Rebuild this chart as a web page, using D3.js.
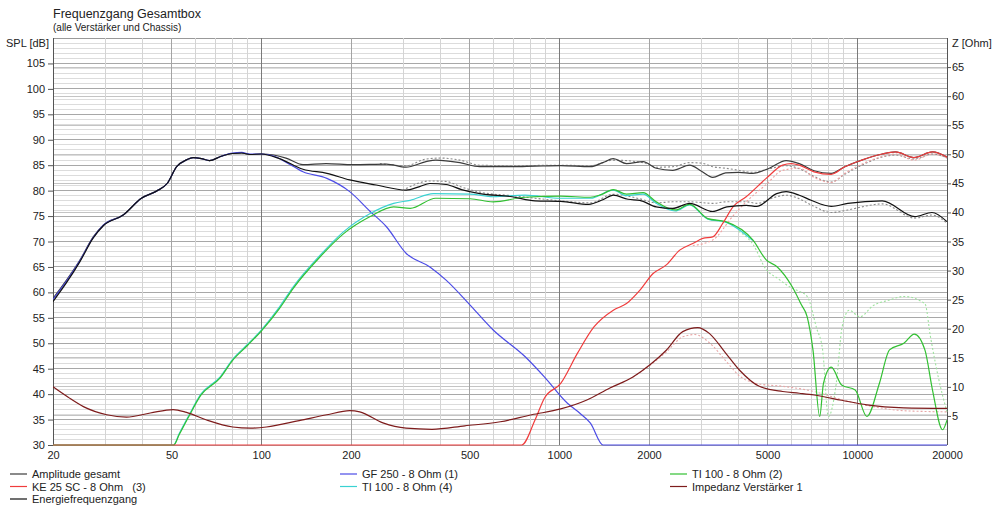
<!DOCTYPE html>
<html>
<head>
<meta charset="utf-8">
<script src="https://cdn.jsdelivr.net/npm/d3@7"></script>
<style>
  body { margin: 0; background: #fff; }
  text { font-family: "Liberation Sans", Arial, sans-serif; fill: #222; }
</style>
</head>
<body>
<svg id="chart" width="1000" height="509"></svg>
<script>
// --- values: [frequency Hz, value] ---
const amplitudeGesamt = [[20,58.8],[22.2,62.4],[24.6,66.3],[27.3,70.9],[29.5,73.2],[34.4,75.2],[39.6,78.5],[44.5,79.9],[48.3,81.4],[52,84.7],[56.3,86.1],[59,86.5],[63,86.3],[67,85.9],[73,86.7],[80,87.3],[86,87.4],[91.5,87.1],[100,87.2],[110,87.0],[121,86.4],[138,85.1],[165,85.3],[203,85.1],[263,85.2],[306,84.6],[357,85.7],[385,86.0],[464,85.5],[541,84.7],[694,84.7],[829,84.8],[1011,84.9],[1272,84.7],[1400,85.5],[1518,86.3],[1681,85.3],[1911,85.7],[2114,84.4],[2402,84.0],[2738,85.0],[3000,83.8],[3272,82.6],[3616,83.5],[4000,83.6],[4460,83.4],[5065,84.4],[5770,85.9],[6388,85.3],[7160,83.9],[8175,83.4],[9083,84.7],[10350,86.0],[12120,87.2],[13430,87.6],[15490,86.5],[17880,87.6],[20000,86.6]];
const amplitudeRef = [[250,85.3],[306,84.9],[357,86.2],[400,86.4],[464,86.0],[541,85.0],[694,84.9],[1011,85.0],[1272,84.9],[1518,86.0],[1911,85.5],[2114,84.6],[2402,84.7],[2738,85.5],[3000,85.4],[3272,84.7],[3616,84.4],[4000,84.0],[4460,83.6],[5065,84.3],[5770,84.9],[6388,84.3],[7160,82.8],[8175,81.7],[9083,83.2],[10350,85.0],[12120,86.6],[13430,87.0],[15490,86.2],[17880,87.2],[20000,86.4]];
const energiefrequenzgang = [[20,58.2],[22.2,61.9],[24.6,66.0],[27.3,70.7],[29.5,73.1],[34.4,75.2],[39.6,78.5],[44.5,79.9],[48.3,81.4],[52,84.7],[56.3,86.1],[59,86.5],[63,86.3],[67,85.9],[73,86.7],[80,87.3],[86,87.4],[91.5,87.1],[100,87.2],[115,86.3],[138,84.2],[166,83.4],[198,82.1],[243,81.1],[306,80.1],[340,80.8],[368,81.4],[417,81.2],[470,80.2],[541,79.4],[694,78.8],[829,78.0],[1011,77.9],[1256,77.3],[1400,78.2],[1518,79.1],[1700,78.3],[1862,78.1],[2114,76.8],[2402,76.5],[2738,77.5],[3272,75.9],[3650,76.8],[4238,77.1],[4600,76.9],[5365,79.4],[5770,79.8],[6388,79.1],[7000,78.1],[8175,76.9],[9300,77.5],[12120,78.0],[15600,74.9],[17800,75.7],[20000,73.9]];
const energieRef = [[306,80.4],[368,81.9],[417,81.8],[470,80.7],[541,79.7],[694,79.0],[1011,78.0],[1272,77.6],[1518,79.3],[1862,78.4],[2114,77.6],[2402,77.8],[2738,77.8],[3272,77.5],[3650,77.8],[4238,77.8],[4600,77.5],[5365,78.8],[5770,79.1],[6388,78.4],[7000,77.2],[8175,75.7],[9300,76.2],[10350,76.8],[12120,77.4],[15600,74.6],[17800,75.2],[20000,73.6]];
const gf250 = [[20,58.6],[22.2,62.2],[24.6,66.2],[27.3,70.8],[29.5,73.2],[34.4,75.2],[39.6,78.5],[44.5,79.9],[48.3,81.4],[52,84.7],[56.3,86.1],[59,86.5],[63,86.3],[67,85.9],[73,86.7],[80,87.4],[86,87.5],[91.5,87.2],[100,87.2],[110,86.8],[121,85.6],[138,83.7],[166,82.4],[198,79.8],[232,75.9],[263,72.9],[306,67.7],[368,65.0],[417,62.4],[502,57.5],[600,52.6],[767,47.4],[891,43.4],[1065,38.2],[1175,36.2],[1272,34.3],[1403,30],[20000,30]];
const ti100_2 = [[20,30],[50.8,30],[53,32],[57,35.5],[62.7,39.8],[72.8,43.2],[80,46.6],[90,49.6],[100,52.4],[115,56.8],[128,60.8],[157.6,67.0],[188.6,71.5],[232,74.9],[278,76.8],[316,76.5],[385,78.5],[502,78.4],[600,77.8],[767,78.7],[1011,78.9],[1272,78.7],[1380,79.2],[1518,80.2],[1681,79.3],[1911,79.6],[2114,77.8],[2450,76.2],[2738,77.3],[3150,74.5],[3616,73.9],[4460,70.3],[4946,66.4],[5390,65.0],[6048,61.1],[6500,57.5],[6790,55.2],[7100,48.7],[7480,35.6],[7700,42.1],[8175,45.3],[8860,41.8],[9840,40.8],[10770,35.6],[11860,42.1],[12830,48.7],[14330,50.0],[15540,51.8],[16860,48.7],[17880,40.8],[19320,33.0],[20000,34.9]];
const ti100_2Ref = [[4000,72.0],[4460,69.5],[4946,64.5],[5390,62.8],[6048,60.8],[6388,60.2],[6790,59.2],[7300,53.0],[7650,48.7],[8000,35.6],[8500,42.1],[8900,53.3],[9400,56.5],[10200,55.2],[11300,57.4],[12830,58.5],[14330,59.2],[16860,57.8],[17600,51.3],[18900,42.1],[20000,36.5]];
const ke25sc = [[20,30],[748,30],[829,34.9],[891,39.2],[1011,42.1],[1150,48.0],[1307,53.2],[1518,56.5],[1681,57.8],[1862,60.4],[2064,63.7],[2286,65.4],[2535,68.3],[2806,69.6],[3031,70.6],[3272,70.9],[3540,73.6],[3826,76.8],[4238,78.8],[4946,82.4],[5618,85.0],[6000,85.3],[6388,85.0],[7160,83.7],[8175,83.2],[9083,84.7],[10350,86.0],[12120,87.2],[13430,87.6],[15490,86.5],[17880,87.6],[20000,86.6]];
const ke25scRef = [[2806,69.2],[3272,70.3],[3826,75.0],[4238,77.8],[4946,81.2],[5618,84.0],[6388,84.4],[7160,82.6],[8175,81.6],[9083,83.4],[10350,85.2],[12120,86.7],[13430,87.2],[15490,86.0],[17880,87.2],[20000,86.4]];
const ti100_4 = [[20,30],[50.8,30],[53,32.2],[57,35.7],[62.7,40.0],[72.8,43.4],[80,46.8],[90,49.8],[100,52.6],[115,57.1],[128,61.1],[157.6,67.3],[188.6,71.9],[232,75.5],[278,77.5],[316,78.1],[378,79.4],[502,79.3],[600,78.8],[767,79.1],[1011,78.5],[1272,78.5],[1518,80.1],[1681,79.0],[1911,79.3],[2114,77.5],[2450,76.0],[2738,77.2],[3150,74.4],[3616,73.8],[4460,70.2]];
// impedance, right axis (Ohm)
const impedanz = [[20,10.0],[22.5,8.2],[25.3,6.6],[30.3,5.2],[35.3,4.8],[42.4,5.5],[50.6,6.1],[56.1,5.6],[65.5,4.3],[80.2,3.1],[92,2.9],[104,3.1],[134,4.2],[166,5.2],[198,5.9],[214,5.7],[256,3.8],[306,2.9],[374,2.7],[482,3.3],[634,4.0],[808,5.2],[1011,6.2],[1232,7.7],[1478,9.8],[1767,11.7],[2015,13.8],[2286,16.3],[2596,19.5],[2914,20.2],[3187,19.2],[3616,15.8],[4020,12.9],[4688,10.1],[5618,9.2],[6388,8.9],[7160,8.6],[8860,7.7],[10770,6.9],[14330,6.4],[20000,6.3]];
const impedanzRef = [[1767,11.7],[2015,13.7],[2286,16.0],[2596,18.6],[2850,19.0],[3187,17.6],[3616,14.5],[4020,11.9],[4688,10.5],[5618,10.1],[6388,9.7],[7160,9.2],[8860,7.8],[10770,6.8],[14330,5.9],[20000,5.7]];

const spl_ticks = [30,35,40,45,50,55,60,65,70,75,80,85,90,95,100,105];
const z_ticks = [5,10,15,20,25,30,35,40,45,50,55,60,65];
const freq_labels = [20,50,100,200,500,1000,2000,5000,10000,20000];

const svg = d3.select("#chart");
const x = d3.scaleLog().domain([20, 20000]).range([53, 947]);
const ySpl = d3.scaleLinear().domain([30, 110]).range([445, 38]);
const yZ = d3.scaleLinear().domain([0, 70]).range([445, 38]);

// grid
const grid = svg.append("g").attr("shape-rendering", "crispEdges");
d3.range(31, 110).filter(d => d % 5 !== 0).forEach(d => {
    grid.append("line").attr("x1", 53).attr("x2", 947).attr("y1", ySpl(d)).attr("y2", ySpl(d)).attr("stroke", "#dcdcdc");
});
z_ticks.forEach(d => {
    grid.append("line").attr("x1", 53).attr("x2", 947).attr("y1", yZ(d)).attr("y2", yZ(d)).attr("stroke", "#c4c4c4");
});
spl_ticks.concat([110]).forEach(d => {
    grid.append("line").attr("x1", 53).attr("x2", 947).attr("y1", ySpl(d)).attr("y2", ySpl(d)).attr("stroke", d === 110 ? "#999" : "#a8a8a8");
});
const freqGrid = [];
[10, 100, 1000, 10000].forEach(dec => { for (let m = 1; m < 10; m++) freqGrid.push(dec * m); });
freqGrid.filter(f => f > 20 && f < 20000).forEach(f => {
    const lead = f / Math.pow(10, Math.floor(Math.log10(f) + 1e-9));
    let col = "#d4d4d4";
    if (Math.abs(lead - 1) < 1e-6) col = "#7a7a7a";
    else if (Math.abs(lead - 2) < 1e-6 || Math.abs(lead - 5) < 1e-6) col = "#a4a4a4";
    grid.append("line").attr("x1", x(f)).attr("x2", x(f)).attr("y1", 38).attr("y2", 445).attr("stroke", col);
});
// frame
grid.append("line").attr("x1", 53).attr("x2", 53).attr("y1", 38).attr("y2", 445).attr("stroke", "#555");
grid.append("line").attr("x1", 947).attr("x2", 947).attr("y1", 38).attr("y2", 445).attr("stroke", "#555");

// axes
const leftAxis = svg.append("g").attr("transform", "translate(53,0)")
    .call(d3.axisLeft(ySpl).tickValues(spl_ticks).tickSize(5).tickPadding(3));
const rightAxis = svg.append("g").attr("transform", "translate(947,0)")
    .call(d3.axisRight(yZ).tickValues(z_ticks).tickSize(4).tickPadding(1));
const bottomAxis = svg.append("g").attr("transform", "translate(0,445)")
    .call(d3.axisBottom(x).tickValues(freq_labels).tickFormat(d3.format("d")).tickSize(0).tickPadding(6));
[leftAxis, rightAxis, bottomAxis].forEach(a => {
    a.select(".domain").remove();
    a.selectAll(".tick line").attr("stroke", "#555");
    a.selectAll(".tick text").attr("font-size", 11).attr("font-family", "Liberation Sans, Arial, sans-serif").attr("fill", "#222");
});

// titles
svg.append("text").attr("x", 53).attr("y", 18).attr("font-size", 12.5).text("Frequenzgang Gesamtbox");
svg.append("text").attr("x", 53).attr("y", 31).attr("font-size", 10).text("(alle Verstärker und Chassis)");
svg.append("text").attr("x", 49).attr("y", 47).attr("font-size", 11).attr("text-anchor", "end").text("SPL [dB]");
svg.append("text").attr("x", 952).attr("y", 47).attr("font-size", 11).text("Z [Ohm]");

// curves
svg.append("clipPath").attr("id", "plotclip").append("rect").attr("x", 53).attr("y", 38).attr("width", 895).attr("height", 408);
const plot = svg.append("g").attr("clip-path", "url(#plotclip)").attr("fill", "none");
const lineFor = ys => d3.line().x(d => x(d[0])).y(d => ys(d[1])).curve(d3.curveMonotoneX);

const dotted = [
    [amplitudeRef, ySpl, "#8a8a8a"],
    [energieRef, ySpl, "#8a8a8a"],
    [ti100_2Ref, ySpl, "#9ee29e"],
    [ke25scRef, ySpl, "#f0a0a0"],
    [impedanzRef, yZ, "#e8a8a8"]
];
dotted.forEach(([data, ys, col]) => {
    plot.append("path").attr("d", lineFor(ys)(data)).attr("stroke", col).attr("stroke-width", 1.1).attr("stroke-dasharray", "2,2");
});

const series = [
    {name: "Amplitude gesamt", data: amplitudeGesamt, ys: ySpl, color: "#3c3c3c"},
    {name: "GF 250 - 8 Ohm (1)", data: gf250, ys: ySpl, color: "#4c4ce6"},
    {name: "TI 100 - 8 Ohm (4)", data: ti100_4, ys: ySpl, color: "#3ad2d2"},
    {name: "TI 100 - 8 Ohm (2)", data: ti100_2, ys: ySpl, color: "#32c032"},
    {name: "KE 25 SC - 8 Ohm   (3)", data: ke25sc, ys: ySpl, color: "#f03c3c"},
    {name: "Impedanz Verstärker 1", data: impedanz, ys: yZ, color: "#7e1c1c"},
    {name: "Energiefrequenzgang", data: energiefrequenzgang, ys: ySpl, color: "#111111"}
];
series.forEach(s => {
    plot.append("path").attr("d", lineFor(s.ys)(s.data)).attr("stroke", s.color).attr("stroke-width", 1.2);
});

// legend (row-wise, three columns)
const legendOrder = ["Amplitude gesamt", "GF 250 - 8 Ohm (1)", "TI 100 - 8 Ohm (2)", "KE 25 SC - 8 Ohm   (3)", "TI 100 - 8 Ohm (4)", "Impedanz Verstärker 1", "Energiefrequenzgang"];
const colX = [10, 340, 670], rowY = [474, 486.5, 499];
legendOrder.forEach((name, i) => {
    const s = series.find(d => d.name === name);
    const lx = colX[i % 3], ly = rowY[Math.floor(i / 3)];
    svg.append("line").attr("x1", lx).attr("x2", lx + 17).attr("y1", ly).attr("y2", ly).attr("stroke", s.color).attr("stroke-width", 1.2);
    svg.append("text").attr("x", lx + 22).attr("y", ly + 4).attr("font-size", 11).style("white-space", "pre").text(name);
});
</script>
</body>
</html>
